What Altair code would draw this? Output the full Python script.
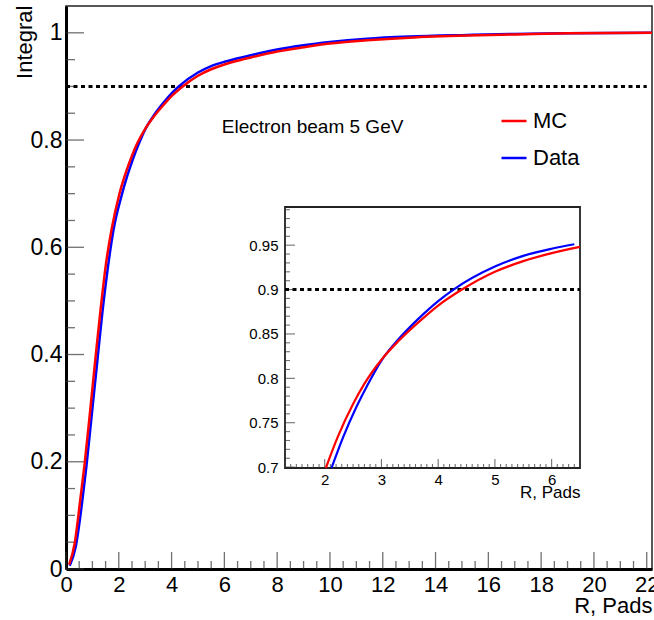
import altair as alt
import numpy as np
import pandas as pd

FONT = "Liberation Sans"

# Cumulative fraction of the shower energy contained within radius R (in pads)
mc_r = [0.12, 0.33, 0.54, 0.71, 0.92, 1.11, 1.31, 1.52, 1.73, 2.02, 2.23, 2.5, 2.7,
        3.0, 3.3, 3.65, 4.0, 4.42, 5.0, 5.5, 6.0, 6.5, 7.0, 8.0, 9.0, 10.0, 11.4,
        13.0, 15.2, 17.0, 19.0, 22.2]
mc_v = [0.008, 0.048, 0.129, 0.198, 0.297, 0.39, 0.484, 0.571, 0.634, 0.699, 0.734,
        0.771, 0.794, 0.821, 0.842, 0.863, 0.882, 0.900, 0.920, 0.932, 0.941, 0.948,
        0.954, 0.965, 0.973, 0.980, 0.986, 0.991, 0.995, 0.997, 0.999, 1.0]

data_r = [0.14, 0.37, 0.6, 0.77, 0.98, 1.17, 1.37, 1.58, 1.79, 2.12, 2.32, 2.56, 2.75,
          3.0, 3.3, 3.65, 4.0, 4.27, 5.0, 5.5, 6.0, 6.4, 7.0, 8.0, 9.0, 10.0, 11.4,
          13.0, 15.2, 17.0, 19.0, 22.2]
data_v = [0.006, 0.042, 0.12, 0.19, 0.29, 0.38, 0.475, 0.56, 0.63, 0.699, 0.733,
          0.768, 0.792, 0.820, 0.844, 0.867, 0.887, 0.900, 0.926, 0.938, 0.946, 0.951,
          0.958, 0.969, 0.977, 0.983, 0.989, 0.993, 0.996, 0.998, 0.999, 1.0]

series_names = ["MC", "Data"]
series_colors = ["#ff0000", "#0000ff"]
threshold = [0.9]
annotation = ["Electron beam 5 GeV"]

# axis ranges
main_r = (0.0, 22.2)
main_v = (0.0, 1.05)
inset_r = (1.3, 6.5)
inset_v = (0.699, 0.993)

curves = pd.concat([
    pd.DataFrame({"r": mc_r, "v": mc_v, "series": "MC"}),
    pd.DataFrame({"r": data_r, "v": data_v, "series": "Data"}),
], ignore_index=True)

W, H = 586, 563

XS = alt.Scale(domain=list(main_r), nice=False, zero=False)
YS = alt.Scale(domain=list(main_v), nice=False, zero=False)
# inset panel lives inside the main plot area
XI = alt.Scale(domain=list(inset_r), range=[219, 514], nice=False, zero=False)
YI = alt.Scale(domain=list(inset_v), range=[462, 201], nice=False, zero=False)

common_axis = dict(grid=False, ticks=False, tickSize=0, labelFont=FONT, labelColor="black",
                   labelFlush=False, labelOverlap=False, titleFont=FONT, titleColor="black",
                   titleFontWeight="normal")

XA = alt.Axis(values=list(range(0, 23, 2)), domain=True, domainColor="black", domainWidth=3,
              labelFontSize=22, labelBaseline="alphabetic", labelPadding=22,
              title="R, Pads", titleFontSize=22, titleAnchor="end", titleAlign="right",
              titleBaseline="alphabetic", titleY=43, **common_axis)
YA = alt.Axis(values=[0, 0.2, 0.4, 0.6, 0.8, 1.0], format="~g", domain=True, domainColor="black",
              domainWidth=3, labelFontSize=23, labelPadding=4, labelBaseline="middle",
              title="Integral", titleFontSize=22, titleAnchor="end", titleAngle=270,
              titleAlign="right", titleBaseline="alphabetic", titleX=-35, titleY=-1,
              **common_axis)
XIA = alt.Axis(orient="bottom", offset=-101, values=[2, 3, 4, 5, 6], domain=False,
               labelFontSize=15, labelBaseline="alphabetic", labelPadding=16,
               title="R, Pads", titleFontSize=17, titleAnchor="end", titleAlign="right",
               titleBaseline="alphabetic", titleY=29, **common_axis)
YIA = alt.Axis(orient="left", offset=-219, values=[0.7, 0.75, 0.8, 0.85, 0.9, 0.95],
               format="~g", domain=False, labelFontSize=15, labelPadding=7,
               labelBaseline="middle", title=None, **common_axis)

color = alt.Color(
    "series:N",
    scale=alt.Scale(domain=series_names, range=series_colors),
    legend=alt.Legend(title=None, orient="none", legendX=434, legendY=101,
                      symbolType="stroke", symbolSize=625, symbolStrokeWidth=2.5,
                      labelFont=FONT, labelFontSize=22, labelColor="black",
                      labelOffset=5, rowPadding=12, padding=0, offset=0),
)

TICK = "#333333"


def main_layers():
    xmaj = np.arange(0, 23, 2)
    xmin = [t for t in np.arange(0.5, 22.2, 0.5) if t % 2 != 0]
    ymaj = np.round(np.arange(0, 1.01, 0.2), 2)
    ymin = [t for t in np.round(np.arange(0.05, 1.05, 0.05), 2) if round(t / 0.2, 6) % 1 != 0]

    x_ticks = [
        alt.Chart(pd.DataFrame({"t": vals})).mark_tick(
            orient="vertical", size=size, yOffset=-size / 2, thickness=1.3, color=TICK
        ).encode(x=alt.X("t:Q", scale=XS, axis=XA), y=alt.YDatum(0, scale=YS, axis=YA))
        for vals, size in ((xmaj, 17), (xmin, 8))
    ]
    y_ticks = [
        alt.Chart(pd.DataFrame({"t": vals})).mark_tick(
            orient="horizontal", size=size, xOffset=size / 2, thickness=1.3, color=TICK
        ).encode(x=alt.XDatum(0, scale=XS, axis=XA), y=alt.Y("t:Q", scale=YS, axis=YA))
        for vals, size in ((ymaj, 18), (ymin, 9))
    ]
    dotted = alt.Chart(pd.DataFrame({"y": threshold})).mark_rule(
        strokeDash=[4, 3.5], strokeWidth=3, color="black"
    ).encode(x=alt.XDatum(0, scale=XS, axis=XA), x2=alt.X2Datum(22),
             y=alt.Y("y:Q", scale=YS, axis=YA))
    lines = [
        alt.Chart(curves).transform_filter(alt.datum.series == name).mark_line(
            interpolate="monotone", strokeWidth=2.5
        ).encode(x=alt.X("r:Q", scale=XS, axis=XA), y=alt.Y("v:Q", scale=YS, axis=YA),
                 color=color)
        for name in ("Data", "MC")
    ]
    text = alt.Chart(pd.DataFrame({"label": annotation})).mark_text(
        align="left", baseline="middle", font=FONT, fontSize=19, color="black"
    ).encode(x=alt.XDatum(5.9, scale=XS, axis=XA), y=alt.YDatum(0.824, scale=YS, axis=YA),
             text="label:N")
    return alt.layer(*x_ticks, *y_ticks, dotted, *lines, text)


def inset_layers():
    xmaj = [2, 3, 4, 5, 6]
    xmin = [t for t in np.round(np.arange(1.4, 6.5, 0.1), 1) if t % 1 != 0]
    ymaj = [0.7, 0.75, 0.8, 0.85, 0.9, 0.95]
    ymin = [t for t in np.round(np.arange(0.71, 0.993, 0.01), 2)
            if round(t / 0.05, 6) % 1 != 0]

    frame = alt.Chart(pd.DataFrame({"a": [0]})).mark_rect(
        fill="white", stroke="#222222", strokeWidth=1.8
    ).encode(x=alt.XDatum(inset_r[0], scale=XI, axis=XIA), x2=alt.X2Datum(inset_r[1]),
             y=alt.YDatum(inset_v[0], scale=YI, axis=YIA), y2=alt.Y2Datum(inset_v[1]))
    x_ticks = [
        alt.Chart(pd.DataFrame({"t": vals})).mark_tick(
            orient="vertical", size=size, yOffset=-size / 2, thickness=1.1, color=TICK
        ).encode(x=alt.X("t:Q", scale=XI, axis=XIA),
                 y=alt.YDatum(inset_v[0], scale=YI, axis=YIA))
        for vals, size in ((xmaj, 9), (xmin, 4))
    ]
    y_ticks = [
        alt.Chart(pd.DataFrame({"t": vals})).mark_tick(
            orient="horizontal", size=size, xOffset=size / 2, thickness=1.1, color=TICK
        ).encode(x=alt.XDatum(inset_r[0], scale=XI, axis=XIA),
                 y=alt.Y("t:Q", scale=YI, axis=YIA))
        for vals, size in ((ymaj, 10), (ymin, 5))
    ]
    dotted = alt.Chart(pd.DataFrame({"y": threshold})).mark_rule(
        strokeDash=[4, 3.5], strokeWidth=3, color="black"
    ).encode(x=alt.XDatum(inset_r[0], scale=XI, axis=XIA), x2=alt.X2Datum(inset_r[1]),
             y=alt.Y("y:Q", scale=YI, axis=YIA))
    lines = [
        alt.Chart(curves).transform_filter(
            (alt.datum.series == name) & (alt.datum.r <= inset_r[1]) & (alt.datum.v >= inset_v[0])
        ).mark_line(interpolate="monotone", strokeWidth=2.2).encode(
            x=alt.X("r:Q", scale=XI, axis=XIA), y=alt.Y("v:Q", scale=YI, axis=YIA), color=color)
        for name in ("Data", "MC")
    ]
    return alt.layer(frame, *x_ticks, *y_ticks, dotted, *lines)


chart = alt.layer(main_layers(), inset_layers()).resolve_scale(
    x="independent", y="independent"
).properties(
    width=W, height=H,
    autosize=alt.AutoSizeParams(type="none"),
    padding={"left": 66, "top": 6, "right": 2, "bottom": 51},
    background="white",
).configure_view(stroke="#222222", strokeWidth=1.5)

chart.save("out.html", embed_options={"renderer": "svg", "actions": False})
